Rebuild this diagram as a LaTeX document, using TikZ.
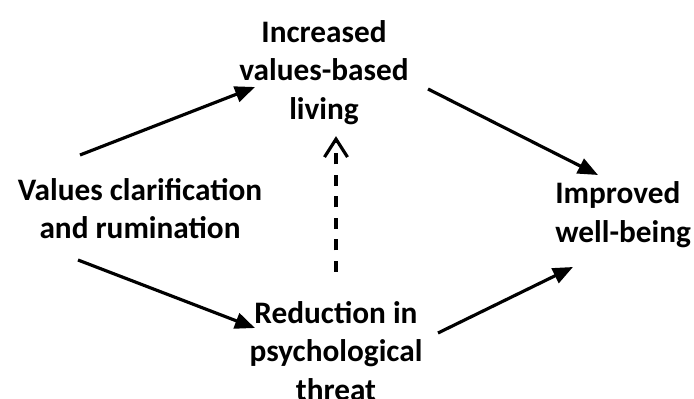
\documentclass[tikz,border=0pt]{standalone}
\usepackage{fontspec}
\setmainfont{Carlito}
\usetikzlibrary{arrows.meta}

\tikzset{
    lbl/.style={inner sep=0pt, align=center, font=\bfseries\fontsize{17.8pt}{22pt}\selectfont},
    arr/.style={line width=1.8pt, -{Triangle[length=0.4cm,width=0.32cm]}},
    dasharr/.style={line width=1.8pt, dash pattern=on 0.22cm off 0.21cm, -{Straight Barb[length=0.36cm,width=0.46cm]}}
}

\begin{document}
\begin{tikzpicture}
        \useasboundingbox (0,0) rectangle (13.88,7.96);

        \node[lbl] (living) at (6.48,6.51) {Increased\\values-based\\living};
        \node[lbl] (clarif) at (2.8,3.79) {Values clarification\\and rumination};
        \node[lbl, align=left, anchor=west] (wellbeing) at (11.1,3.66) {Improved\\well-being};
        \node[lbl] (threat) at (6.72,0.94) {Reduction in\\psychological\\threat};

        \draw[arr] ([shift={(-1.2,1.07)}]clarif.center) -- ([shift={(-1.38,-0.29)}]living.center);
        \draw[arr] ([shift={(2.08,-0.33)}]living.center) -- ([shift={(0.86,0.8)}]wellbeing.west);
        \draw[arr] ([shift={(-1.24,-1.03)}]clarif.center) -- ([shift={(-1.62,0.46)}]threat.center);
        \draw[arr] ([shift={(2.04,0.36)}]threat.center) -- ([shift={(0.36,-1.04)}]wellbeing.west);

        % dashed link
        \draw[dasharr, shorten <=0.58cm, shorten >=0.22cm] (threat.north) -- (threat.north |- living.south);
    \end{tikzpicture}
\end{document}
